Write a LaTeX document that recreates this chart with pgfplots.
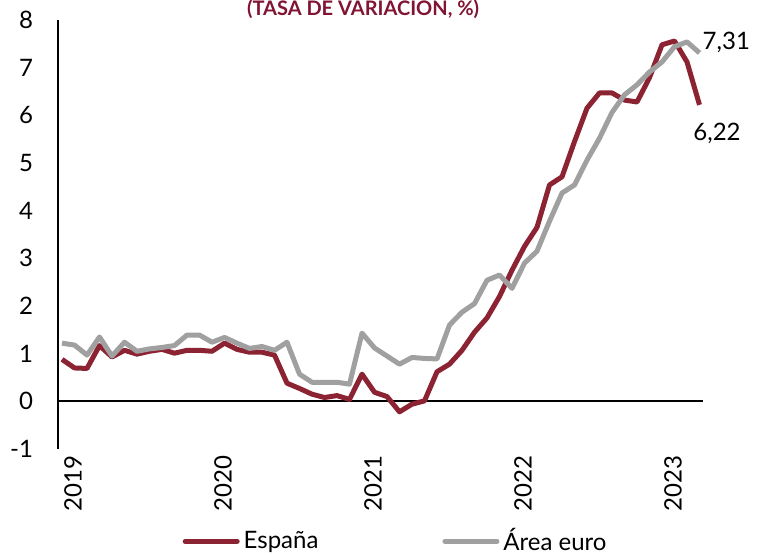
\documentclass[border=0pt]{standalone}
\usepackage{pgfplots}
\pgfplotsset{compat=1.18}
\usepackage{fontspec}
\setmainfont{Lato}
\definecolor{rojo}{RGB}{140,35,50}
\definecolor{gris}{RGB}{160,160,160}
\definecolor{titulo}{RGB}{128,20,50}

\pgfplotstableread{
x y
0 0.88
1 0.70
2 0.69
3 1.17
4 0.93
5 1.07
6 0.99
7 1.05
8 1.09
9 1.01
10 1.07
11 1.07
12 1.05
13 1.22
14 1.09
15 1.03
16 1.03
17 0.97
18 0.38
19 0.27
20 0.15
21 0.08
22 0.12
23 0.04
24 0.57
25 0.19
26 0.10
27 -0.22
28 -0.06
29 0.01
30 0.62
31 0.78
32 1.07
33 1.45
34 1.75
35 2.20
36 2.75
37 3.25
38 3.65
39 4.54
40 4.71
41 5.45
42 6.15
43 6.47
44 6.47
45 6.32
46 6.28
47 6.79
48 7.48
49 7.56
50 7.12
51 6.22
}\espana

\pgfplotstableread{
x y
0 1.22
1 1.18
2 0.97
3 1.35
4 0.95
5 1.24
6 1.05
7 1.10
8 1.13
9 1.17
10 1.39
11 1.39
12 1.24
13 1.34
14 1.22
15 1.11
16 1.15
17 1.07
18 1.24
19 0.57
20 0.40
21 0.40
22 0.40
23 0.36
24 1.43
25 1.12
26 0.95
27 0.78
28 0.92
29 0.90
30 0.89
31 1.60
32 1.87
33 2.05
34 2.54
35 2.65
36 2.37
37 2.90
38 3.15
39 3.78
40 4.37
41 4.54
42 5.06
43 5.52
44 6.06
45 6.43
46 6.64
47 6.91
48 7.12
49 7.44
50 7.54
51 7.31
}\euro

\begin{document}
\begin{tikzpicture}
\begin{axis}[
  name=ax,
  scale only axis,
  width=322.5pt, height=214.5pt,
  xmin=-0.32, xmax=51.28, ymin=-1, ymax=8,
  axis x line*=bottom,
  axis y line*=left,
  x axis line style={draw=none},
  y axis line style={-, black, line width=1pt},
  xtick={0,12,24,36,48},
  xticklabels={2019,2020,2021,2022,2023},
  ytick={-1,0,1,2,3,4,5,6,7,8},
  major tick length=0pt,
  /pgf/number format/assume math mode=true,
  tick label style={font=\fontsize{12}{14}\selectfont, black},
  xticklabel style={rotate=90, anchor=east, yshift=-5.5pt},
  yticklabel style={xshift=-9pt},
  clip=false,
  legend style={at={(0.525,-0.215)}, anchor=center, draw=none, fill=none,
    legend columns=2, font=\fontsize{12}{14}\selectfont,
    /tikz/every even column/.append style={column sep=60pt},
    inner sep=0pt},
  legend cell align=left,
  legend image code/.code={\draw[#1, line cap=round] (0pt,0pt) -- (26pt,0pt);},
]
\addplot[black, line width=0.9pt, forget plot] coordinates {(-0.32,0) (51.28,0)};
\addplot[rojo, line width=2.5pt, line join=round] table[x=x,y=y] {\espana};
\addlegendentry{España}
\addplot[gris, line width=2.5pt, line join=round] table[x=x,y=y] {\euro};
\addlegendentry{Área euro}
\node[anchor=east, font=\fontsize{12}{14}\selectfont] at (axis cs:55.6,7.52) {7,31};
\node[font=\fontsize{12}{14}\selectfont] at (axis cs:52.4,5.63) {6,22};
\node[anchor=base, font=\bfseries\fontsize{10}{12}\selectfont, text=titulo] at ([yshift=2pt]rel axis cs:0.473,1) {(TASA DE VARIACIÓN, \%)};
\end{axis}
\pgfresetboundingbox
\path[use as bounding box] ([xshift=-29pt,yshift=-53pt]ax.south west) rectangle ([xshift=29pt,yshift=10pt]ax.north east);
\end{tikzpicture}
\end{document}
